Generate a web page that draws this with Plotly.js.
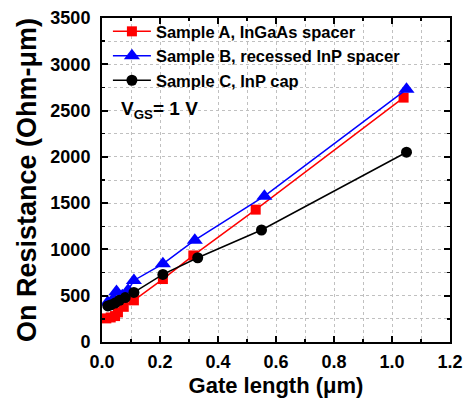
<!DOCTYPE html>
<html>
<head>
<meta charset="utf-8">
<script src="https://cdn.plot.ly/plotly-3.0.1.min.js"></script>
<style>html,body{margin:0;padding:0;background:#fff;}#chart{width:465px;height:398px;}</style>
</head>
<body>
<div id="chart"></div>
<script>
// Gate length (um) and on-resistance (Ohm-um)
const seriesNames = ["Sample A, InGaAs spacer", "Sample B, recessed InP spacer", "Sample C, InP cap"];
const xA = [0.015, 0.03, 0.045, 0.055, 0.075, 0.11, 0.21, 0.315, 0.53, 1.04];
const yA = [255, 265, 280, 320, 380, 450, 680, 935, 1430, 2640];
const xB = [0.02, 0.04, 0.05, 0.07, 0.09, 0.11, 0.21, 0.32, 0.56, 1.05];
const yB = [430, 470, 545, 500, 560, 665, 845, 1100, 1575, 2730];
const xC = [0.02, 0.03, 0.045, 0.06, 0.08, 0.11, 0.21, 0.33, 0.55, 1.05];
const yC = [390, 400, 420, 450, 480, 535, 730, 910, 1210, 2050];
const xTicks = [0.0, 0.2, 0.4, 0.6, 0.8, 1.0, 1.2];
const xTickText = ["0.0", "0.2", "0.4", "0.6", "0.8", "1.0", "1.2"];
const yTicks = [0, 500, 1000, 1500, 2000, 2500, 3000, 3500];

const font = "Liberation Sans, Arial, sans-serif";
const traces = [
  {x: xA, y: yA, name: seriesNames[0], mode: "lines+markers",
   line: {color: "#ff0000", width: 1.5}, marker: {symbol: "square", size: 10, color: "#ff0000"}},
  {x: xB, y: yB, name: seriesNames[1], mode: "lines+markers",
   line: {color: "#0000ff", width: 1.5}, marker: {symbol: "triangle-up", size: 14, color: "#0000ff"}},
  {x: xC, y: yC, name: seriesNames[2], mode: "lines+markers",
   line: {color: "#000000", width: 1.5}, marker: {symbol: "circle", size: 11, color: "#000000"}}
];
const axisCommon = {
  showline: true, linecolor: "#000", linewidth: 2, mirror: "ticks",
  ticks: "inside", ticklen: 6, tickwidth: 2, tickcolor: "#000",
  showgrid: true, gridcolor: "#c0c0c0", griddash: "dot", gridwidth: 1,
  zeroline: false,
  tickfont: {family: font, size: 18, color: "#000", weight: "bold"}
};
const layout = {
  width: 465, height: 398,
  margin: {l: 102, r: 15, t: 18, b: 56},
  paper_bgcolor: "#fff", plot_bgcolor: "#fff",
  showlegend: true,
  legend: {x: 0.017, y: 1.012, xanchor: "left", yanchor: "top", bgcolor: "rgba(0,0,0,0)",
           font: {family: font, size: 16.5, color: "#000", weight: "bold"}, tracegroupgap: 0, itemwidth: 38},
  xaxis: Object.assign({}, axisCommon, {
    range: [0, 1.2], tickvals: xTicks, ticktext: xTickText, ticklabelstandoff: 2,
    minor: {dtick: 0.1, tick0: 0, ticks: "inside", ticklen: 3, tickwidth: 1.5, tickcolor: "#000",
            showgrid: true, gridcolor: "#c0c0c0", griddash: "dot", gridwidth: 1},
    title: {text: "Gate length (\u03bcm)", font: {family: font, size: 22, color: "#000", weight: "bold"}, standoff: 7}
  }),
  yaxis: Object.assign({}, axisCommon, {
    range: [0, 3500], tickvals: yTicks, ticklabelstandoff: 6,
    minor: {dtick: 250, tick0: 0, ticks: "inside", ticklen: 3, tickwidth: 1.5, tickcolor: "#000",
            showgrid: true, gridcolor: "#c0c0c0", griddash: "dot", gridwidth: 1},
    title: {text: "On Resistance (Ohm-\u03bcm)", font: {family: font, size: 27, color: "#000", weight: "bold"}, standoff: 6}
  }),
  annotations: [{
    xref: "paper", yref: "paper", x: 0.05, y: 0.715, xanchor: "left", yanchor: "middle",
    text: "V<sub>GS</sub>= 1 V", showarrow: false,
    font: {family: font, size: 19, color: "#000", weight: "bold"}
  }]
};
Plotly.newPlot("chart", traces, layout, {displayModeBar: false, staticPlot: true});
</script>
</body>
</html>
